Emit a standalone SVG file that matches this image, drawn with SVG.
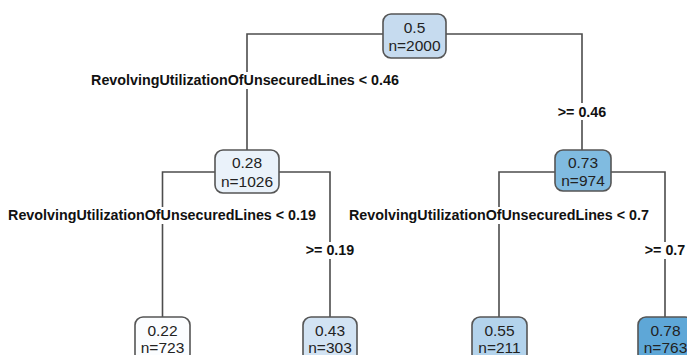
<svg xmlns="http://www.w3.org/2000/svg" width="687" height="355" viewBox="0 0 687 355">
<style>
.edge{fill:none;stroke:#4d4d4d;stroke-width:1.6}
.box{stroke:#555;stroke-width:1.6}
.nt{font-family:"Liberation Sans",Arial,sans-serif;font-size:15.5px;fill:#222;text-anchor:middle}
.lb{font-family:"Liberation Sans",Arial,sans-serif;font-size:14.3px;font-weight:bold;fill:#111;text-anchor:middle}
.bg{fill:#fff}
</style>
<rect width="687" height="355" fill="#fff"/>
<g id="connectors">
<path class="edge" d="M383 34H247V150M446 34H582V150"/>
<path class="edge" d="M215 172H162.5V317M279 172H330V317"/>
<path class="edge" d="M555 172H499V317M611 172H665V317"/>
</g>
<g id="labels">
<rect class="bg" x="88" y="72" width="314" height="17"/>
<text class="lb" x="245" y="85">RevolvingUtilizationOfUnsecuredLines &lt; 0.46</text>
<rect class="bg" x="554" y="103" width="57" height="17"/>
<text class="lb" x="582" y="117">&gt;= 0.46</text>
<rect class="bg" x="5" y="207" width="315" height="17"/>
<text class="lb" x="162" y="220">RevolvingUtilizationOfUnsecuredLines &lt; 0.19</text>
<rect class="bg" x="302" y="242" width="57" height="17"/>
<text class="lb" x="330" y="255">&gt;= 0.19</text>
<rect class="bg" x="345" y="207" width="309" height="17"/>
<text class="lb" x="499" y="220">RevolvingUtilizationOfUnsecuredLines &lt; 0.7</text>
<rect class="bg" x="641" y="242" width="47" height="17"/>
<text class="lb" x="665" y="255">&gt;= 0.7</text>
</g>
<g id="n1">
<rect class="box" x="383" y="14" width="63" height="44" rx="8" fill="#c6dbef"/>
<text class="nt" x="414.5" y="33">0.5</text>
<text class="nt" x="414.5" y="51">n=2000</text>
</g>
<g id="n2">
<rect class="box" x="215" y="150" width="64" height="43" rx="8" fill="#eaf2fa"/>
<text class="nt" x="247" y="168">0.28</text>
<text class="nt" x="247" y="187">n=1026</text>
</g>
<g id="n3">
<rect class="box" x="555" y="150" width="56" height="41" rx="8" fill="#80bbe0"/>
<text class="nt" x="583" y="168">0.73</text>
<text class="nt" x="583" y="186">n=974</text>
</g>
<g id="n4">
<rect class="box" x="135" y="317" width="55" height="45" rx="8" fill="#fbfdff"/>
<text class="nt" x="162.5" y="336">0.22</text>
<text class="nt" x="162.5" y="353">n=723</text>
</g>
<g id="n5">
<rect class="box" x="303" y="317" width="54" height="45" rx="8" fill="#d2e3f3"/>
<text class="nt" x="330" y="336">0.43</text>
<text class="nt" x="330" y="353">n=303</text>
</g>
<g id="n6">
<rect class="box" x="472" y="317" width="55" height="45" rx="8" fill="#b3d3ec"/>
<text class="nt" x="499.5" y="336">0.55</text>
<text class="nt" x="499.5" y="353">n=211</text>
</g>
<g id="n7">
<rect class="box" x="638" y="317" width="55" height="45" rx="8" fill="#5ea7d7"/>
<text class="nt" x="665.5" y="336">0.78</text>
<text class="nt" x="665.5" y="353">n=763</text>
</g>
</svg>
